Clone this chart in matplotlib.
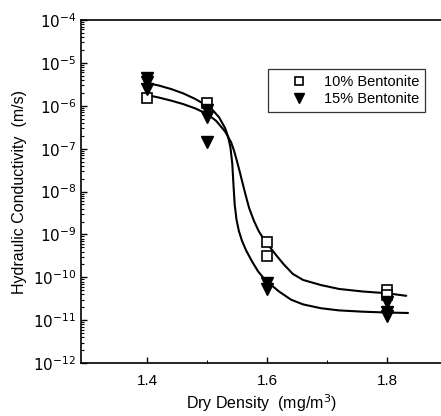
import matplotlib
matplotlib.use("Agg")
import matplotlib.pyplot as plt
from matplotlib.ticker import LogLocator, NullFormatter, FixedLocator

plt.rcParams['font.family'] = ['Liberation Sans', 'DejaVu Sans']

# measured data
x10 = [1.4, 1.5, 1.6, 1.6, 1.8, 1.8]
k10 = [1.5e-6, 1.17e-6, 6.7e-10, 3.2e-10, 5.1e-11, 3.9e-11]
x15 = [1.4, 1.4, 1.4, 1.5, 1.5, 1.5, 1.6, 1.6, 1.8, 1.8, 1.8]
k15 = [4.5e-6, 3.5e-6, 2.5e-6, 8e-7, 5.5e-7, 1.45e-7, 7.4e-11, 5.5e-11, 2.7e-11, 1.6e-11, 1.25e-11]

# fitted curves (log10 k)
fit10_x = [1.40, 1.42, 1.44, 1.46, 1.48, 1.50, 1.515, 1.53, 1.54, 1.545, 1.55, 1.555,
           1.56, 1.565, 1.57, 1.578, 1.586, 1.595, 1.605, 1.615, 1.628, 1.643, 1.66,
           1.69, 1.72, 1.76, 1.80, 1.832]
fit10_logk = [-5.75, -5.81, -5.88, -5.96, -6.06, -6.19, -6.35, -6.60, -6.85, -7.05, -7.30, -7.57,
              -7.85, -8.12, -8.38, -8.68, -8.92, -9.12, -9.30, -9.48, -9.70, -9.92, -10.06,
              -10.18, -10.27, -10.33, -10.37, -10.43]
fit15_x = [1.40, 1.42, 1.44, 1.46, 1.48, 1.50, 1.51, 1.52, 1.53, 1.535, 1.539, 1.542,
           1.544, 1.546, 1.549, 1.553, 1.558, 1.565, 1.575, 1.585, 1.595, 1.607, 1.62,
           1.64, 1.66, 1.69, 1.72, 1.76, 1.80, 1.835]
fit15_logk = [-5.47, -5.53, -5.61, -5.71, -5.84, -6.00, -6.11, -6.27, -6.52, -6.72, -6.98, -7.35,
              -7.85, -8.30, -8.65, -8.92, -9.14, -9.37, -9.63, -9.86, -10.03, -10.18, -10.33,
              -10.52, -10.63, -10.72, -10.77, -10.80, -10.82, -10.83]

xticks = [1.4, 1.6, 1.8]
xtick_labels = ["1.4", "1.6", "1.8"]
yticks = [1e-12, 1e-11, 1e-10, 1e-9, 1e-8, 1e-7, 1e-6, 1e-5, 1e-4]
ytick_labels = [r"$10^{-12}$", r"$10^{-11}$", r"$10^{-10}$", r"$10^{-9}$", r"$10^{-8}$",
                r"$10^{-7}$", r"$10^{-6}$", r"$10^{-5}$", r"$10^{-4}$"]

fig = plt.figure(figsize=(4.41, 4.16), dpi=100)
ax = fig.add_axes([0.184, 0.127, 0.816, 0.825])

for fx, fl in [(fit10_x, fit10_logk), (fit15_x, fit15_logk)]:
    ax.plot(fx, [10 ** v for v in fl], color='black', lw=1.5,
            solid_joinstyle='round', solid_capstyle='round')
ax.plot(x10, k10, linestyle='none', marker='s', ms=6.5, mfc='white', mec='black', mew=1.2,
        label='10% Bentonite', zorder=3)
ax.plot(x15, k15, linestyle='none', marker='v', ms=8, mfc='black', mec='black',
        label='15% Bentonite', zorder=3)

ax.set_yscale('log')
ax.set_xlim(1.29, 1.89)
ax.set_ylim(1e-12, 1e-4)
ax.set_xticks(xticks)
ax.set_xticklabels(xtick_labels)
ax.xaxis.set_minor_locator(FixedLocator([1.5, 1.7]))
ax.set_yticks(yticks)
ax.set_yticklabels(ytick_labels)
ax.yaxis.set_minor_locator(LogLocator(base=10, subs=range(2, 10), numticks=20))
ax.yaxis.set_minor_formatter(NullFormatter())
ax.tick_params(which='both', direction='in', labelsize=11)
ax.tick_params(which='major', length=4, width=1)
ax.tick_params(which='minor', length=2, width=0.8)
ax.tick_params(axis='x', which='major', pad=8)
ax.spines['right'].set_visible(False)
for s in ['left', 'top', 'bottom']:
    ax.spines[s].set_linewidth(1.2)

ax.set_xlabel("Dry Density  (mg/m$^3$)", fontsize=11.5, labelpad=3)
ax.set_ylabel("Hydraulic Conductivity  (m/s)", fontsize=11.5, labelpad=4)

leg = ax.legend(loc='upper right', bbox_to_anchor=(0.955, 0.857), fontsize=10.5,
                frameon=True, fancybox=False, edgecolor='black', handlelength=3.4,
                handletextpad=0.0, borderpad=0.4, borderaxespad=0, labelspacing=0.22,
                markerscale=0.9)
leg.get_frame().set_linewidth(0.9)

fig.savefig("out.png", dpi=100)
